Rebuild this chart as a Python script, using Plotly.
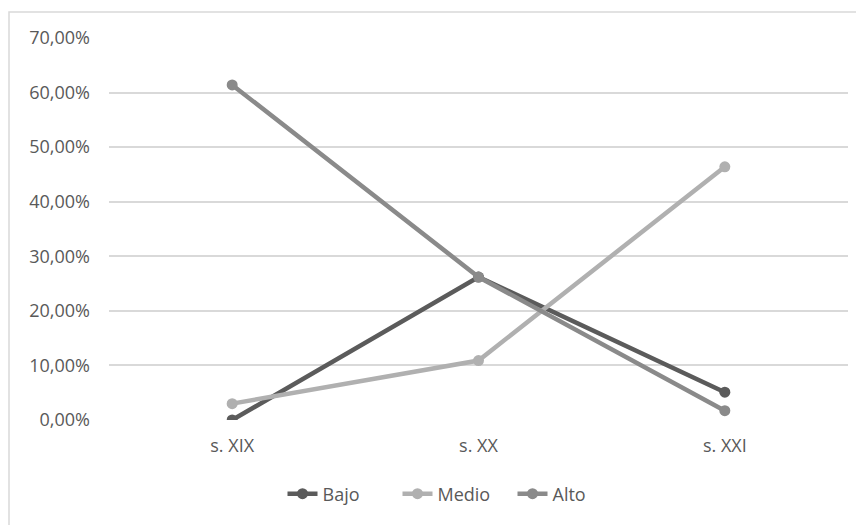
import plotly.graph_objects as go

categories = ["s. XIX", "s. XX", "s. XXI"]
bajo = [0.0, 0.262, 0.051]
medio = [0.030, 0.109, 0.464]
alto = [0.614, 0.262, 0.017]
y_ticks = [0, 0.1, 0.2, 0.3, 0.4, 0.5, 0.6, 0.7]

series = [("Bajo", bajo, "#5b5b5b"), ("Medio", medio, "#b0b0b0"), ("Alto", alto, "#8a8a8a")]

fig = go.Figure()
for name, vals, col in series:
    fig.add_trace(go.Scatter(
        x=categories, y=vals, name=name, mode="lines+markers",
        line=dict(color=col, width=4.5),
        marker=dict(color=col, size=11),
    ))

OFF = 8  # page body margin
W, H = 864 - OFF, 525 - OFF
L, R, T, B = 109 - OFF, 848 - OFF, 38 - OFF, 420 - OFF
pw, ph = R - L, B - T

def px(x):
    return (x - OFF - L) / pw

def py(y):
    return (B - (y - OFF)) / ph

FONT = "Open Sans, Lato, sans-serif"
FS = 18
fig.update_layout(
    width=W, height=H,
    margin=dict(l=L, r=W - R, t=T, b=H - B),
    paper_bgcolor="white", plot_bgcolor="white",
    separators=",.",
    font=dict(family=FONT, size=FS, color="#595959"),
    showlegend=True,
    legend=dict(orientation="h", x=px(455), xanchor="center", y=py(494), yanchor="middle",
                font=dict(size=FS, color="#595959"), tracegroupgap=0,
                entrywidth=70),
    xaxis=dict(showgrid=False, showline=False, zeroline=False, ticks="",
               ticklabelstandoff=13, range=[-0.5, 2.5],
               tickfont=dict(size=FS, color="#595959")),
    yaxis=dict(range=[0, 0.7], tickvals=y_ticks, tickformat=".2%",
               showgrid=True, gridcolor="#d9d9d9", gridwidth=1.5,
               zeroline=False, showline=False, ticks="",
               ticklabelstandoff=18,
               tickfont=dict(size=FS, color="#595959")),
    shapes=[dict(type="rect", xref="paper", yref="paper",
                 x0=px(9), x1=px(900), y0=py(560), y1=py(12),
                 line=dict(color="#d9d9d9", width=1.5), fillcolor="rgba(0,0,0,0)",
                 layer="below")],
)

fig.write_html("out.html")
